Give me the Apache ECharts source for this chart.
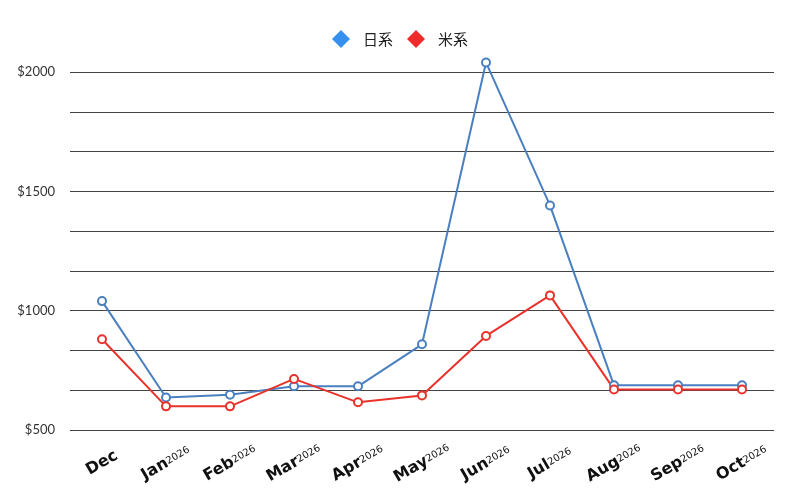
<!DOCTYPE html>
<html>
<head>
<meta charset="utf-8">
<script src="https://cdn.jsdelivr.net/npm/echarts@6/dist/echarts.min.js"></script>
<style>
  html, body { margin: 0; padding: 0; background: #fff; }
  #chart { width: 800px; height: 500px; }
</style>
</head>
<body>
<div id="chart"></div>
<script>
const months = ['Dec', 'Jan', 'Feb', 'Mar', 'Apr', 'May', 'Jun', 'Jul', 'Aug', 'Sep', 'Oct']
const years = ['', '2026', '2026', '2026', '2026', '2026', '2026', '2026', '2026', '2026', '2026']
const japanese = [1040, 636, 648, 683, 683, 859, 2040, 1441, 687, 687, 687]
const american = [880, 599, 599, 714, 616, 645, 894, 1064, 670, 670, 670]

const blue = '#4a7fc0'
const red = '#e8322b'

const chart = echarts.init(document.getElementById('chart'))
chart.setOption({
  animation: false,
  legend: {
    top: 25,
    left: 'center',
    itemWidth: 18,
    itemHeight: 18,
    itemGap: 14,
    textStyle: { fontFamily: 'Noto Sans CJK JP', fontSize: 15, color: '#222', padding: [0, 0, 0, 8] },
    data: [
      { name: '日系', icon: 'diamond', itemStyle: { color: '#3590f0' } },
      { name: '米系', icon: 'diamond', itemStyle: { color: '#f02b2b' } }
    ]
  },
  grid: { left: 70, right: 26, top: 72, bottom: 70 },
  xAxis: {
    type: 'category',
    data: months,
    boundaryGap: true,
    axisLine: { show: false },
    axisTick: { show: false },
    axisLabel: {
      rotate: 30,
      margin: 33,
      align: 'center',
      verticalAlign: 'middle',
      formatter: function (v, i) {
        return years[i] ? '{m|' + v + '}{y|' + years[i] + '}' : '{m|' + v + '}'
      },
      rich: {
        m: { fontFamily: 'DejaVu Sans', fontWeight: 'bold', fontSize: 16, color: '#111' },
        y: { fontFamily: 'DejaVu Sans', fontSize: 10, color: '#111', padding: [0, 0, 1, 0] }
      }
    }
  },
  yAxis: {
    type: 'value',
    min: 500,
    max: 2000,
    interval: 500 / 3,
    axisLine: { show: false },
    axisTick: { show: false },
    splitLine: { lineStyle: { color: '#444', width: 1 } },
    axisLabel: {
      margin: 15,
      fontFamily: 'Lato',
      fontSize: 13,
      color: '#333',
      formatter: function (v) {
        const r = Math.round(v)
        return r % 500 === 0 ? '$' + r : ''
      }
    }
  },
  series: [
    {
      name: '日系',
      type: 'line',
      data: japanese,
      clip: false,
      symbol: 'emptyCircle',
      symbolSize: 8,
      lineStyle: { color: blue, width: 2 },
      itemStyle: { color: blue, borderWidth: 2 }
    },
    {
      name: '米系',
      type: 'line',
      data: american,
      clip: false,
      symbol: 'emptyCircle',
      symbolSize: 8,
      lineStyle: { color: red, width: 2 },
      itemStyle: { color: red, borderWidth: 2 }
    }
  ]
})
</script>
</body>
</html>
